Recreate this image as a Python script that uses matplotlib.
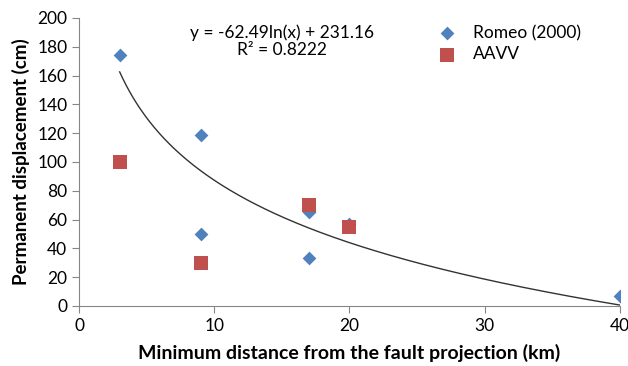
import numpy as np
import matplotlib
matplotlib.use("Agg")
import matplotlib.pyplot as plt

plt.rcParams['font.family'] = ['Lato', 'DejaVu Sans']

romeo_x = [3, 9, 9, 17, 17, 20, 40]
romeo_y = [174, 118.5, 50, 65, 33, 57, 7]
aavv_x = [3, 9, 17, 20]
aavv_y = [100, 30, 70, 55]
trend_a = -62.49
trend_b = 231.16
trend_text = "y = -62.49ln(x) + 231.16\nR² = 0.8222"

fig = plt.figure(figsize=(6.28, 3.66), dpi=100)
ax = fig.add_axes([0.126, 0.164, 0.861, 0.787])

gray = '#868686'
xt = np.linspace(3, 40, 300)
ax.plot(xt, trend_a * np.log(xt) + trend_b, color='#333333', lw=1.0, zorder=2)
ax.scatter(romeo_x, romeo_y, marker='D', s=7.0**2, color='#4F81BD', label='Romeo (2000)', zorder=3, linewidths=0)
ax.scatter(aavv_x, aavv_y, marker='s', s=10**2, color='#C0504D', label='AAVV', zorder=4, linewidths=0)

ax.set_xlim(0, 40)
ax.set_ylim(0, 200)
ax.set_xticks([0, 10, 20, 30, 40])
ax.set_yticks(range(0, 201, 20))
for s in ['top', 'right']:
    ax.spines[s].set_visible(False)
for s in ['left', 'bottom']:
    ax.spines[s].set_color(gray)
ax.tick_params(direction='out', color=gray, length=5, labelsize=12.5, labelcolor='black')
ax.set_xlabel('Minimum distance from the fault projection (km)', fontsize=14, fontweight='bold', labelpad=7)
ax.set_ylabel('Permanent displacement (cm)', fontsize=13.5, fontweight='bold', labelpad=5)

ax.text(15.0, 184, trend_text, ha='center', va='center', fontsize=12.5, linespacing=1.1)
ax.legend(loc='upper left', bbox_to_anchor=(0.62, 1.03), frameon=False, fontsize=12.5,
          handletextpad=0.5, labelspacing=0.3, scatterpoints=1)

fig.savefig('out.png', dpi=100)
